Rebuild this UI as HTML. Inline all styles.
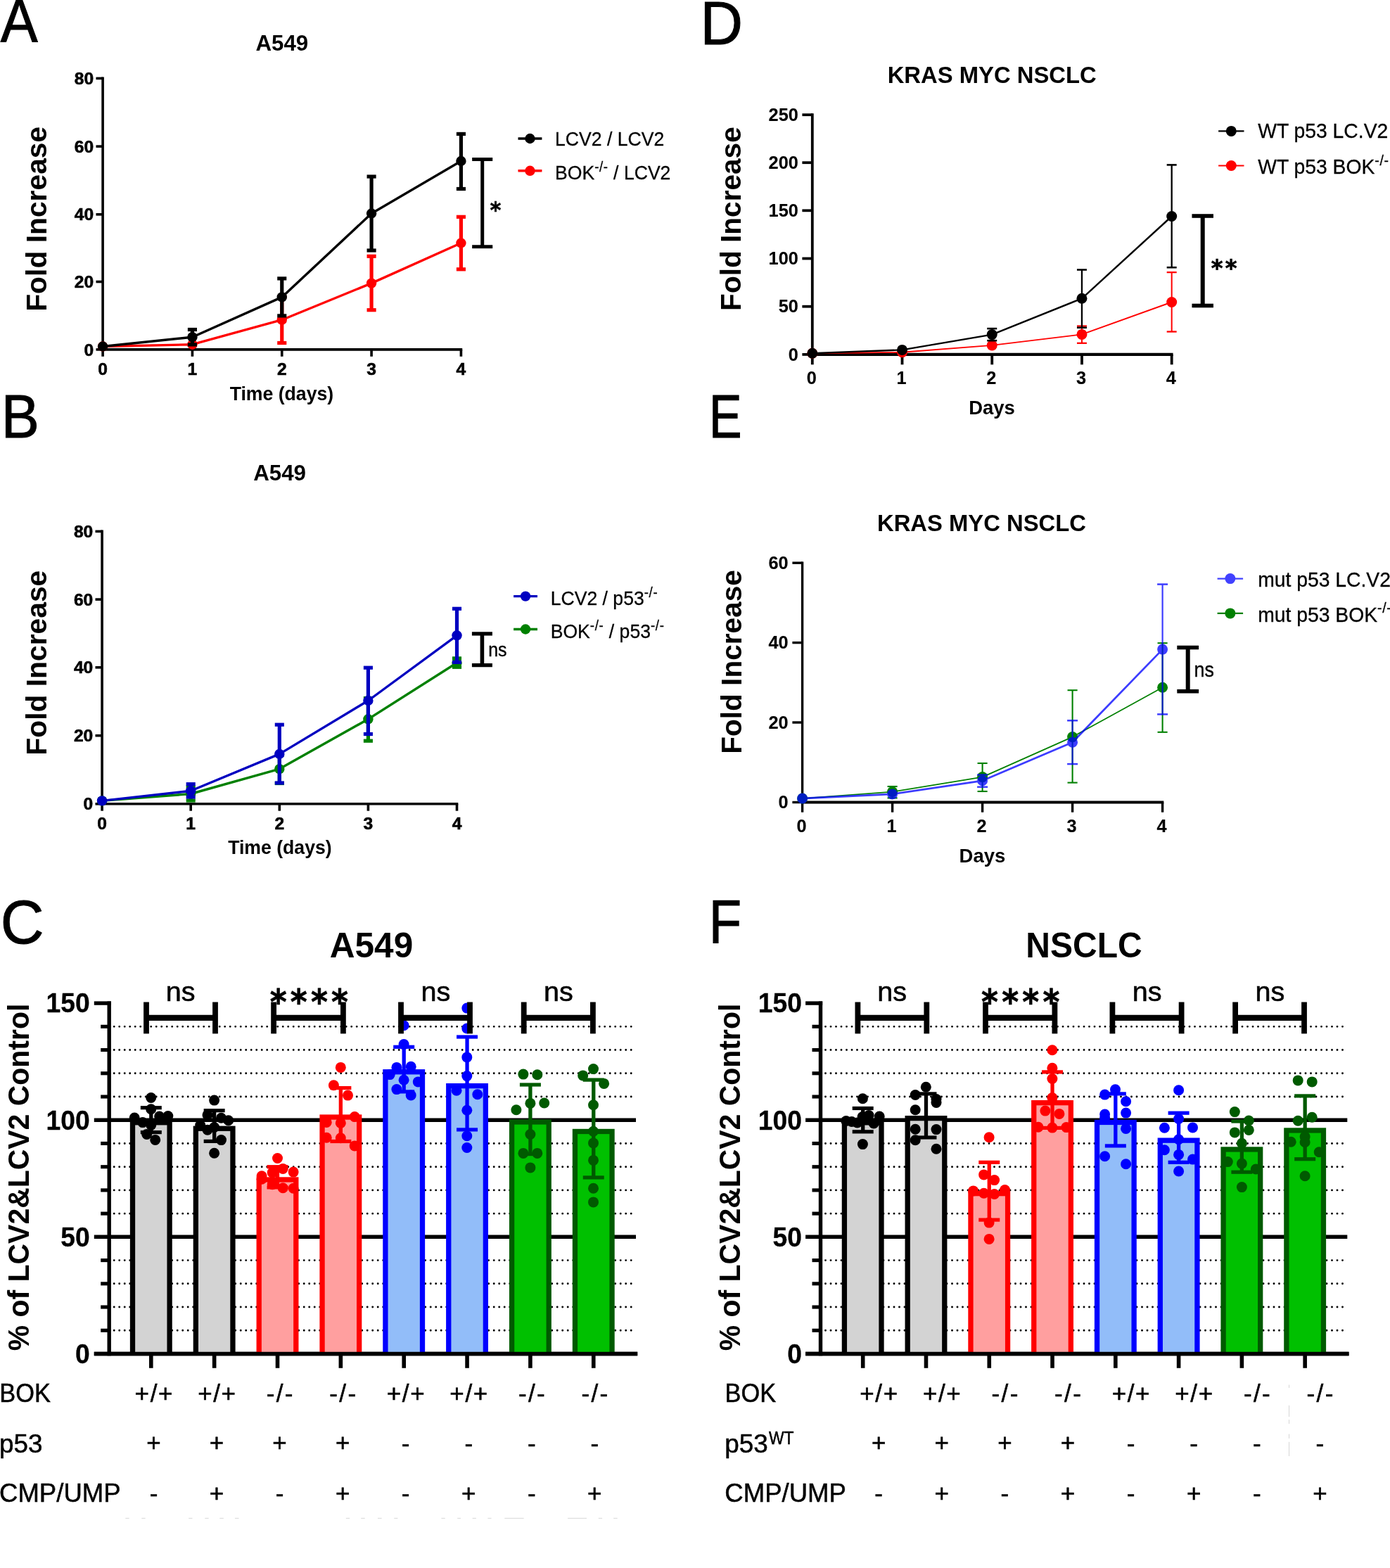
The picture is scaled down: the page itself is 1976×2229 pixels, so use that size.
<!DOCTYPE html>
<html lang="en"><head><meta charset="utf-8"><title>Figure</title>
<style>
html,body{margin:0;padding:0;background:#fff;}
body{width:1976px;height:2229px;overflow:hidden;}
svg{display:block;}
text{font-family:"Liberation Sans",sans-serif;}
</style></head><body>
<svg width="1976" height="2229" viewBox="0 0 1976 2229">
<rect width="1976" height="2229" fill="#fff"/>
<g id="panelA">
<line x1="146.1" y1="109.6" x2="146.1" y2="498.7" stroke="#000" stroke-width="3.6" stroke-linecap="butt" />
<line x1="144.3" y1="496.9" x2="657.22" y2="496.9" stroke="#000" stroke-width="3.6" stroke-linecap="butt" />
<line x1="136.5" y1="496.9" x2="146.1" y2="496.9" stroke="#000" stroke-width="3.6" stroke-linecap="butt" />
<text x="133.2" y="505.5" font-size="24.6" font-weight="bold" text-anchor="end" stroke="#000" stroke-width="0.6" >0</text>
<line x1="136.5" y1="400.5" x2="146.1" y2="400.5" stroke="#000" stroke-width="3.6" stroke-linecap="butt" />
<text x="133.2" y="409.1" font-size="24.6" font-weight="bold" text-anchor="end" stroke="#000" stroke-width="0.6" >20</text>
<line x1="136.5" y1="304.8" x2="146.1" y2="304.8" stroke="#000" stroke-width="3.6" stroke-linecap="butt" />
<text x="133.2" y="313.4" font-size="24.6" font-weight="bold" text-anchor="end" stroke="#000" stroke-width="0.6" >40</text>
<line x1="136.5" y1="208.1" x2="146.1" y2="208.1" stroke="#000" stroke-width="3.6" stroke-linecap="butt" />
<text x="133.2" y="216.7" font-size="24.6" font-weight="bold" text-anchor="end" stroke="#000" stroke-width="0.6" >60</text>
<line x1="136.5" y1="111.4" x2="146.1" y2="111.4" stroke="#000" stroke-width="3.6" stroke-linecap="butt" />
<text x="133.2" y="120" font-size="24.6" font-weight="bold" text-anchor="end" stroke="#000" stroke-width="0.6" >80</text>
<line x1="146.1" y1="496.9" x2="146.1" y2="506.8" stroke="#000" stroke-width="3.6" stroke-linecap="butt" />
<text x="146.1" y="533.4" font-size="24.6" font-weight="bold" text-anchor="middle" stroke="#000" stroke-width="0.6" >0</text>
<line x1="273.43" y1="496.9" x2="273.43" y2="506.8" stroke="#000" stroke-width="3.6" stroke-linecap="butt" />
<text x="273.43" y="533.4" font-size="24.6" font-weight="bold" text-anchor="middle" stroke="#000" stroke-width="0.6" >1</text>
<line x1="400.76" y1="496.9" x2="400.76" y2="506.8" stroke="#000" stroke-width="3.6" stroke-linecap="butt" />
<text x="400.76" y="533.4" font-size="24.6" font-weight="bold" text-anchor="middle" stroke="#000" stroke-width="0.6" >2</text>
<line x1="528.09" y1="496.9" x2="528.09" y2="506.8" stroke="#000" stroke-width="3.6" stroke-linecap="butt" />
<text x="528.09" y="533.4" font-size="24.6" font-weight="bold" text-anchor="middle" stroke="#000" stroke-width="0.6" >3</text>
<line x1="655.42" y1="496.9" x2="655.42" y2="506.8" stroke="#000" stroke-width="3.6" stroke-linecap="butt" />
<text x="655.42" y="533.4" font-size="24.6" font-weight="bold" text-anchor="middle" stroke="#000" stroke-width="0.6" >4</text>
<text x="400.8" y="72.3" font-size="31.3" font-weight="bold" text-anchor="middle" >A549</text>
<text transform="translate(400.4 569) scale(0.98 1)" font-size="27.2" font-weight="bold" text-anchor="middle" >Time (days)</text>
<text transform="translate(66.2 311.3) rotate(-90)" font-size="40.8" font-weight="bold" text-anchor="middle" >Fold Increase</text>
<line x1="400.76" y1="421.9" x2="400.76" y2="487.5" stroke="#ff0000" stroke-width="5.2" stroke-linecap="butt" />
<line x1="394.21" y1="421.9" x2="407.31" y2="421.9" stroke="#ff0000" stroke-width="5.2" stroke-linecap="butt" />
<line x1="394.21" y1="487.5" x2="407.31" y2="487.5" stroke="#ff0000" stroke-width="5.2" stroke-linecap="butt" />
<line x1="528.09" y1="364.3" x2="528.09" y2="440.7" stroke="#ff0000" stroke-width="5.2" stroke-linecap="butt" />
<line x1="521.54" y1="364.3" x2="534.64" y2="364.3" stroke="#ff0000" stroke-width="5.2" stroke-linecap="butt" />
<line x1="521.54" y1="440.7" x2="534.64" y2="440.7" stroke="#ff0000" stroke-width="5.2" stroke-linecap="butt" />
<line x1="655.42" y1="308.3" x2="655.42" y2="382.8" stroke="#ff0000" stroke-width="5.2" stroke-linecap="butt" />
<line x1="648.87" y1="308.3" x2="661.97" y2="308.3" stroke="#ff0000" stroke-width="5.2" stroke-linecap="butt" />
<line x1="648.87" y1="382.8" x2="661.97" y2="382.8" stroke="#ff0000" stroke-width="5.2" stroke-linecap="butt" />
<polyline fill="none" stroke="#ff0000" stroke-width="3.4" stroke-linejoin="round" points="146.1,492.5 273.43,489.7 400.76,454.7 528.09,402.6 655.42,345.5"/>
<circle cx="146.1" cy="492.5" r="7.2" fill="#ff0000" />
<circle cx="273.43" cy="489.7" r="7.2" fill="#ff0000" />
<circle cx="400.76" cy="454.7" r="7.2" fill="#ff0000" />
<circle cx="528.09" cy="402.6" r="7.2" fill="#ff0000" />
<circle cx="655.42" cy="345.5" r="7.2" fill="#ff0000" />
<line x1="273.43" y1="468.5" x2="273.43" y2="489.9" stroke="#000000" stroke-width="5.2" stroke-linecap="butt" />
<line x1="266.88" y1="468.5" x2="279.98" y2="468.5" stroke="#000000" stroke-width="5.2" stroke-linecap="butt" />
<line x1="266.88" y1="489.9" x2="279.98" y2="489.9" stroke="#000000" stroke-width="5.2" stroke-linecap="butt" />
<line x1="400.76" y1="395.9" x2="400.76" y2="448.9" stroke="#000000" stroke-width="5.2" stroke-linecap="butt" />
<line x1="394.21" y1="395.9" x2="407.31" y2="395.9" stroke="#000000" stroke-width="5.2" stroke-linecap="butt" />
<line x1="394.21" y1="448.9" x2="407.31" y2="448.9" stroke="#000000" stroke-width="5.2" stroke-linecap="butt" />
<line x1="528.09" y1="251" x2="528.09" y2="356" stroke="#000000" stroke-width="5.2" stroke-linecap="butt" />
<line x1="521.54" y1="251" x2="534.64" y2="251" stroke="#000000" stroke-width="5.2" stroke-linecap="butt" />
<line x1="521.54" y1="356" x2="534.64" y2="356" stroke="#000000" stroke-width="5.2" stroke-linecap="butt" />
<line x1="655.42" y1="190.4" x2="655.42" y2="268.5" stroke="#000000" stroke-width="5.2" stroke-linecap="butt" />
<line x1="648.87" y1="190.4" x2="661.97" y2="190.4" stroke="#000000" stroke-width="5.2" stroke-linecap="butt" />
<line x1="648.87" y1="268.5" x2="661.97" y2="268.5" stroke="#000000" stroke-width="5.2" stroke-linecap="butt" />
<polyline fill="none" stroke="#000000" stroke-width="3.4" stroke-linejoin="round" points="146.1,492.5 273.43,479.2 400.76,422.4 528.09,303.5 655.42,229"/>
<circle cx="146.1" cy="492.5" r="7.2" fill="#000000" />
<circle cx="273.43" cy="479.2" r="7.2" fill="#000000" />
<circle cx="400.76" cy="422.4" r="7.2" fill="#000000" />
<circle cx="528.09" cy="303.5" r="7.2" fill="#000000" />
<circle cx="655.42" cy="229" r="7.2" fill="#000000" />
<line x1="736.5" y1="197" x2="770.4" y2="197" stroke="#000000" stroke-width="3.4" stroke-linecap="butt" />
<circle cx="753.45" cy="197" r="7.2" fill="#000000" />
<text transform="translate(789 206.9) scale(0.95 1)" font-size="28" stroke="#000" stroke-width="0.3" >LCV2 / LCV2</text>
<line x1="736.5" y1="242.8" x2="770.4" y2="242.8" stroke="#ff0000" stroke-width="3.4" stroke-linecap="butt" />
<circle cx="753.45" cy="242.8" r="7.2" fill="#ff0000" />
<text transform="translate(789 254.7) scale(0.95 1)" font-size="28" stroke="#000" stroke-width="0.3" >BOK<tspan font-size="19.6" dy="-10.8" letter-spacing="0.7">-/-</tspan><tspan dy="10.8"> / LCV2</tspan></text>
<line x1="685.7" y1="226.5" x2="685.7" y2="350.7" stroke="#000" stroke-width="5" stroke-linecap="butt" />
<line x1="671.15" y1="226.5" x2="700.25" y2="226.5" stroke="#000" stroke-width="4.9" stroke-linecap="butt" />
<line x1="671.15" y1="350.7" x2="700.25" y2="350.7" stroke="#000" stroke-width="4.9" stroke-linecap="butt" />
<text transform="translate(696.86 309.48) scale(0.94 1)" font-size="31.52" font-weight="bold" letter-spacing="0.56" stroke="#000" stroke-width="0.7" vector-effect="non-scaling-stroke" style="font-family:'DejaVu Sans',sans-serif">*</text>
</g>
<g id="panelB">
<line x1="145.1" y1="753.6" x2="145.1" y2="1144.6" stroke="#000" stroke-width="3.6" stroke-linecap="butt" />
<line x1="143.3" y1="1142.8" x2="651.3" y2="1142.8" stroke="#000" stroke-width="3.6" stroke-linecap="butt" />
<line x1="135.5" y1="1142.8" x2="145.1" y2="1142.8" stroke="#000" stroke-width="3.6" stroke-linecap="butt" />
<text x="132.3" y="1151.4" font-size="24.6" font-weight="bold" text-anchor="end" stroke="#000" stroke-width="0.6" >0</text>
<line x1="135.5" y1="1045.7" x2="145.1" y2="1045.7" stroke="#000" stroke-width="3.6" stroke-linecap="butt" />
<text x="132.3" y="1054.3" font-size="24.6" font-weight="bold" text-anchor="end" stroke="#000" stroke-width="0.6" >20</text>
<line x1="135.5" y1="948.8" x2="145.1" y2="948.8" stroke="#000" stroke-width="3.6" stroke-linecap="butt" />
<text x="132.3" y="957.4" font-size="24.6" font-weight="bold" text-anchor="end" stroke="#000" stroke-width="0.6" >40</text>
<line x1="135.5" y1="852.1" x2="145.1" y2="852.1" stroke="#000" stroke-width="3.6" stroke-linecap="butt" />
<text x="132.3" y="860.7" font-size="24.6" font-weight="bold" text-anchor="end" stroke="#000" stroke-width="0.6" >60</text>
<line x1="135.5" y1="755.4" x2="145.1" y2="755.4" stroke="#000" stroke-width="3.6" stroke-linecap="butt" />
<text x="132.3" y="764" font-size="24.6" font-weight="bold" text-anchor="end" stroke="#000" stroke-width="0.6" >80</text>
<line x1="145.1" y1="1142.8" x2="145.1" y2="1152.7" stroke="#000" stroke-width="3.6" stroke-linecap="butt" />
<text x="145.1" y="1179.2" font-size="24.6" font-weight="bold" text-anchor="middle" stroke="#000" stroke-width="0.6" >0</text>
<line x1="271.2" y1="1142.8" x2="271.2" y2="1152.7" stroke="#000" stroke-width="3.6" stroke-linecap="butt" />
<text x="271.2" y="1179.2" font-size="24.6" font-weight="bold" text-anchor="middle" stroke="#000" stroke-width="0.6" >1</text>
<line x1="397.3" y1="1142.8" x2="397.3" y2="1152.7" stroke="#000" stroke-width="3.6" stroke-linecap="butt" />
<text x="397.3" y="1179.2" font-size="24.6" font-weight="bold" text-anchor="middle" stroke="#000" stroke-width="0.6" >2</text>
<line x1="523.4" y1="1142.8" x2="523.4" y2="1152.7" stroke="#000" stroke-width="3.6" stroke-linecap="butt" />
<text x="523.4" y="1179.2" font-size="24.6" font-weight="bold" text-anchor="middle" stroke="#000" stroke-width="0.6" >3</text>
<line x1="649.5" y1="1142.8" x2="649.5" y2="1152.7" stroke="#000" stroke-width="3.6" stroke-linecap="butt" />
<text x="649.5" y="1179.2" font-size="24.6" font-weight="bold" text-anchor="middle" stroke="#000" stroke-width="0.6" >4</text>
<text x="397.6" y="682.8" font-size="31.3" font-weight="bold" text-anchor="middle" >A549</text>
<text transform="translate(397.9 1214.3) scale(0.98 1)" font-size="27.2" font-weight="bold" text-anchor="middle" >Time (days)</text>
<text transform="translate(66.2 942.2) rotate(-90)" font-size="40.8" font-weight="bold" text-anchor="middle" >Fold Increase</text>
<line x1="271.2" y1="1119" x2="271.2" y2="1138" stroke="#008000" stroke-width="5.2" stroke-linecap="butt" />
<line x1="264.65" y1="1119" x2="277.75" y2="1119" stroke="#008000" stroke-width="5.2" stroke-linecap="butt" />
<line x1="264.65" y1="1138" x2="277.75" y2="1138" stroke="#008000" stroke-width="5.2" stroke-linecap="butt" />
<line x1="397.3" y1="1073" x2="397.3" y2="1113.5" stroke="#008000" stroke-width="5.2" stroke-linecap="butt" />
<line x1="390.75" y1="1073" x2="403.85" y2="1073" stroke="#008000" stroke-width="5.2" stroke-linecap="butt" />
<line x1="390.75" y1="1113.5" x2="403.85" y2="1113.5" stroke="#008000" stroke-width="5.2" stroke-linecap="butt" />
<line x1="523.4" y1="992.5" x2="523.4" y2="1053.2" stroke="#008000" stroke-width="5.2" stroke-linecap="butt" />
<line x1="516.85" y1="992.5" x2="529.95" y2="992.5" stroke="#008000" stroke-width="5.2" stroke-linecap="butt" />
<line x1="516.85" y1="1053.2" x2="529.95" y2="1053.2" stroke="#008000" stroke-width="5.2" stroke-linecap="butt" />
<line x1="649.5" y1="935.9" x2="649.5" y2="948.3" stroke="#008000" stroke-width="5.2" stroke-linecap="butt" />
<line x1="642.95" y1="935.9" x2="656.05" y2="935.9" stroke="#008000" stroke-width="5.2" stroke-linecap="butt" />
<line x1="642.95" y1="948.3" x2="656.05" y2="948.3" stroke="#008000" stroke-width="5.2" stroke-linecap="butt" />
<polyline fill="none" stroke="#008000" stroke-width="3.4" stroke-linejoin="round" points="145.1,1138.4 271.2,1128.5 397.3,1093.1 523.4,1022.3 649.5,942.2"/>
<circle cx="145.1" cy="1138.4" r="7.2" fill="#008000" />
<circle cx="271.2" cy="1128.5" r="7.2" fill="#008000" />
<circle cx="397.3" cy="1093.1" r="7.2" fill="#008000" />
<circle cx="523.4" cy="1022.3" r="7.2" fill="#008000" />
<circle cx="649.5" cy="942.2" r="7.2" fill="#008000" />
<line x1="271.2" y1="1114.7" x2="271.2" y2="1133" stroke="#0000c0" stroke-width="5.2" stroke-linecap="butt" />
<line x1="264.65" y1="1114.7" x2="277.75" y2="1114.7" stroke="#0000c0" stroke-width="5.2" stroke-linecap="butt" />
<line x1="264.65" y1="1133" x2="277.75" y2="1133" stroke="#0000c0" stroke-width="5.2" stroke-linecap="butt" />
<line x1="397.3" y1="1030.2" x2="397.3" y2="1113" stroke="#0000c0" stroke-width="5.2" stroke-linecap="butt" />
<line x1="390.75" y1="1030.2" x2="403.85" y2="1030.2" stroke="#0000c0" stroke-width="5.2" stroke-linecap="butt" />
<line x1="390.75" y1="1113" x2="403.85" y2="1113" stroke="#0000c0" stroke-width="5.2" stroke-linecap="butt" />
<line x1="523.4" y1="949.2" x2="523.4" y2="1043.5" stroke="#0000c0" stroke-width="5.2" stroke-linecap="butt" />
<line x1="516.85" y1="949.2" x2="529.95" y2="949.2" stroke="#0000c0" stroke-width="5.2" stroke-linecap="butt" />
<line x1="516.85" y1="1043.5" x2="529.95" y2="1043.5" stroke="#0000c0" stroke-width="5.2" stroke-linecap="butt" />
<line x1="649.5" y1="865.3" x2="649.5" y2="941.4" stroke="#0000c0" stroke-width="5.2" stroke-linecap="butt" />
<line x1="642.95" y1="865.3" x2="656.05" y2="865.3" stroke="#0000c0" stroke-width="5.2" stroke-linecap="butt" />
<line x1="642.95" y1="941.4" x2="656.05" y2="941.4" stroke="#0000c0" stroke-width="5.2" stroke-linecap="butt" />
<polyline fill="none" stroke="#0000c0" stroke-width="3.4" stroke-linejoin="round" points="145.1,1138.4 271.2,1124.3 397.3,1071.9 523.4,996 649.5,903.3"/>
<circle cx="145.1" cy="1138.4" r="7.2" fill="#0000c0" />
<circle cx="271.2" cy="1124.3" r="7.2" fill="#0000c0" />
<circle cx="397.3" cy="1071.9" r="7.2" fill="#0000c0" />
<circle cx="523.4" cy="996" r="7.2" fill="#0000c0" />
<circle cx="649.5" cy="903.3" r="7.2" fill="#0000c0" />
<line x1="730.1" y1="847.6" x2="764" y2="847.6" stroke="#0000c0" stroke-width="3.4" stroke-linecap="butt" />
<circle cx="747.05" cy="847.6" r="7.2" fill="#0000c0" />
<text transform="translate(782.7 859.5) scale(0.95 1)" font-size="28" stroke="#000" stroke-width="0.3" >LCV2 / p53<tspan font-size="19.6" dy="-10.8" letter-spacing="0.7">-/-</tspan></text>
<line x1="730.1" y1="894.5" x2="764" y2="894.5" stroke="#008000" stroke-width="3.4" stroke-linecap="butt" />
<circle cx="747.05" cy="894.5" r="7.2" fill="#008000" />
<text transform="translate(782.7 906.9) scale(0.95 1)" font-size="28" stroke="#000" stroke-width="0.3" >BOK<tspan font-size="19.6" dy="-10.8" letter-spacing="0.7">-/-</tspan><tspan dy="10.8"> / p53</tspan><tspan font-size="19.6" dy="-10.8" letter-spacing="0.7">-/-</tspan></text>
<line x1="685.4" y1="900.9" x2="685.4" y2="945.6" stroke="#000" stroke-width="5.6" stroke-linecap="butt" />
<line x1="670.9" y1="900.9" x2="699.9" y2="900.9" stroke="#000" stroke-width="5.3" stroke-linecap="butt" />
<line x1="670.9" y1="945.6" x2="699.9" y2="945.6" stroke="#000" stroke-width="5.3" stroke-linecap="butt" />
<text transform="translate(694.2 933.1) scale(0.94 1.05)" font-size="26.5" stroke="#000" stroke-width="0.4">ns</text>
</g>
<g id="panelD">
<line x1="1154.8" y1="161.3" x2="1154.8" y2="505.8" stroke="#000" stroke-width="3.8" stroke-linecap="butt" />
<line x1="1152.9" y1="503.9" x2="1667.58" y2="503.9" stroke="#000" stroke-width="4.4" stroke-linecap="butt" />
<line x1="1140.4" y1="503.9" x2="1154.8" y2="503.9" stroke="#000" stroke-width="3.8" stroke-linecap="butt" />
<text x="1134.8" y="512.5" font-size="25.3" font-weight="bold" text-anchor="end" stroke="#000" stroke-width="0.15" >0</text>
<line x1="1140.4" y1="435.7" x2="1154.8" y2="435.7" stroke="#000" stroke-width="3.8" stroke-linecap="butt" />
<text x="1134.8" y="444.3" font-size="25.3" font-weight="bold" text-anchor="end" stroke="#000" stroke-width="0.15" >50</text>
<line x1="1140.4" y1="367.5" x2="1154.8" y2="367.5" stroke="#000" stroke-width="3.8" stroke-linecap="butt" />
<text x="1134.8" y="376.1" font-size="25.3" font-weight="bold" text-anchor="end" stroke="#000" stroke-width="0.15" >100</text>
<line x1="1140.4" y1="299.3" x2="1154.8" y2="299.3" stroke="#000" stroke-width="3.8" stroke-linecap="butt" />
<text x="1134.8" y="307.9" font-size="25.3" font-weight="bold" text-anchor="end" stroke="#000" stroke-width="0.15" >150</text>
<line x1="1140.4" y1="231.2" x2="1154.8" y2="231.2" stroke="#000" stroke-width="3.8" stroke-linecap="butt" />
<text x="1134.8" y="239.8" font-size="25.3" font-weight="bold" text-anchor="end" stroke="#000" stroke-width="0.15" >200</text>
<line x1="1140.4" y1="163.2" x2="1154.8" y2="163.2" stroke="#000" stroke-width="3.8" stroke-linecap="butt" />
<text x="1134.8" y="171.8" font-size="25.3" font-weight="bold" text-anchor="end" stroke="#000" stroke-width="0.15" >250</text>
<line x1="1154.8" y1="503.9" x2="1154.8" y2="518.3" stroke="#000" stroke-width="3.8" stroke-linecap="butt" />
<text x="1153.8" y="546" font-size="25.3" font-weight="bold" text-anchor="middle" stroke="#000" stroke-width="0.15" >0</text>
<line x1="1282.52" y1="503.9" x2="1282.52" y2="518.3" stroke="#000" stroke-width="3.8" stroke-linecap="butt" />
<text x="1281.52" y="546" font-size="25.3" font-weight="bold" text-anchor="middle" stroke="#000" stroke-width="0.15" >1</text>
<line x1="1410.24" y1="503.9" x2="1410.24" y2="518.3" stroke="#000" stroke-width="3.8" stroke-linecap="butt" />
<text x="1409.24" y="546" font-size="25.3" font-weight="bold" text-anchor="middle" stroke="#000" stroke-width="0.15" >2</text>
<line x1="1537.96" y1="503.9" x2="1537.96" y2="518.3" stroke="#000" stroke-width="3.8" stroke-linecap="butt" />
<text x="1536.96" y="546" font-size="25.3" font-weight="bold" text-anchor="middle" stroke="#000" stroke-width="0.15" >3</text>
<line x1="1665.68" y1="503.9" x2="1665.68" y2="518.3" stroke="#000" stroke-width="3.8" stroke-linecap="butt" />
<text x="1664.68" y="546" font-size="25.3" font-weight="bold" text-anchor="middle" stroke="#000" stroke-width="0.15" >4</text>
<text x="1410.2" y="118.1" font-size="32.8" font-weight="bold" text-anchor="middle" >KRAS MYC NSCLC</text>
<text x="1410" y="589" font-size="27.5" font-weight="bold" text-anchor="middle" >Days</text>
<text transform="translate(1053.3 311.1) rotate(-90)" font-size="40.6" font-weight="bold" text-anchor="middle" >Fold Increase</text>
<line x1="1537.96" y1="463.5" x2="1537.96" y2="487.8" stroke="#ff0000" stroke-width="2" stroke-linecap="butt" />
<line x1="1530.96" y1="463.5" x2="1544.96" y2="463.5" stroke="#ff0000" stroke-width="2.3" stroke-linecap="butt" />
<line x1="1530.96" y1="487.8" x2="1544.96" y2="487.8" stroke="#ff0000" stroke-width="2.3" stroke-linecap="butt" />
<line x1="1665.68" y1="387.1" x2="1665.68" y2="471.5" stroke="#ff0000" stroke-width="2" stroke-linecap="butt" />
<line x1="1658.68" y1="387.1" x2="1672.68" y2="387.1" stroke="#ff0000" stroke-width="2.3" stroke-linecap="butt" />
<line x1="1658.68" y1="471.5" x2="1672.68" y2="471.5" stroke="#ff0000" stroke-width="2.3" stroke-linecap="butt" />
<polyline fill="none" stroke="#ff0000" stroke-width="1.9" stroke-linejoin="round" points="1154.8,502.2 1282.52,500.8 1410.24,490.9 1537.96,475.4 1665.68,429.5"/>
<circle cx="1154.8" cy="502.2" r="7.5" fill="#ff0000" />
<circle cx="1282.52" cy="500.8" r="7.5" fill="#ff0000" />
<circle cx="1410.24" cy="490.9" r="7.5" fill="#ff0000" />
<circle cx="1537.96" cy="475.4" r="7.5" fill="#ff0000" />
<circle cx="1665.68" cy="429.5" r="7.5" fill="#ff0000" />
<line x1="1410.24" y1="467.1" x2="1410.24" y2="484.2" stroke="#000000" stroke-width="2.3" stroke-linecap="butt" />
<line x1="1403.24" y1="467.1" x2="1417.24" y2="467.1" stroke="#000000" stroke-width="2.6" stroke-linecap="butt" />
<line x1="1403.24" y1="484.2" x2="1417.24" y2="484.2" stroke="#000000" stroke-width="2.6" stroke-linecap="butt" />
<line x1="1537.96" y1="383.5" x2="1537.96" y2="465.7" stroke="#000000" stroke-width="2.3" stroke-linecap="butt" />
<line x1="1530.96" y1="383.5" x2="1544.96" y2="383.5" stroke="#000000" stroke-width="2.6" stroke-linecap="butt" />
<line x1="1530.96" y1="465.7" x2="1544.96" y2="465.7" stroke="#000000" stroke-width="2.6" stroke-linecap="butt" />
<line x1="1665.68" y1="234.4" x2="1665.68" y2="380.2" stroke="#000000" stroke-width="2.3" stroke-linecap="butt" />
<line x1="1658.68" y1="234.4" x2="1672.68" y2="234.4" stroke="#000000" stroke-width="2.6" stroke-linecap="butt" />
<line x1="1658.68" y1="380.2" x2="1672.68" y2="380.2" stroke="#000000" stroke-width="2.6" stroke-linecap="butt" />
<polyline fill="none" stroke="#000000" stroke-width="2.4" stroke-linejoin="round" points="1154.8,502.2 1282.52,497.4 1410.24,475.6 1537.96,424.3 1665.68,307.5"/>
<circle cx="1154.8" cy="502.2" r="7.5" fill="#000000" />
<circle cx="1282.52" cy="497.4" r="7.5" fill="#000000" />
<circle cx="1410.24" cy="475.6" r="7.5" fill="#000000" />
<circle cx="1537.96" cy="424.3" r="7.5" fill="#000000" />
<circle cx="1665.68" cy="307.5" r="7.5" fill="#000000" />
<line x1="1732.1" y1="186.4" x2="1768.5" y2="186.4" stroke="#000000" stroke-width="2.1" stroke-linecap="butt" />
<circle cx="1750.3" cy="186.4" r="7.5" fill="#000000" />
<text transform="translate(1788.2 195.9) scale(0.95 1)" font-size="29.8" stroke="#000" stroke-width="0.3" >WT p53 LC.V2</text>
<line x1="1732.1" y1="235.5" x2="1768.5" y2="235.5" stroke="#ff0000" stroke-width="2.1" stroke-linecap="butt" />
<circle cx="1750.3" cy="235.5" r="7.5" fill="#ff0000" />
<text transform="translate(1788.2 247.1) scale(0.95 1)" font-size="29.8" stroke="#000" stroke-width="0.3" >WT p53 BOK<tspan font-size="20.5" dy="-12.6" letter-spacing="0.7">-/-</tspan></text>
<line x1="1709.7" y1="307" x2="1709.7" y2="434.5" stroke="#000" stroke-width="6" stroke-linecap="butt" />
<line x1="1694.45" y1="307" x2="1724.95" y2="307" stroke="#000" stroke-width="5.6" stroke-linecap="butt" />
<line x1="1694.45" y1="434.5" x2="1724.95" y2="434.5" stroke="#000" stroke-width="5.6" stroke-linecap="butt" />
<text transform="translate(1721.76 393.08) scale(0.95 1)" font-size="33.7" font-weight="bold" letter-spacing="3.38" stroke="#000" stroke-width="0.7" vector-effect="non-scaling-stroke" style="font-family:'DejaVu Sans',sans-serif">**</text>
</g>
<g id="panelE">
<line x1="1140.6" y1="798.5" x2="1140.6" y2="1142.2" stroke="#000" stroke-width="3.4" stroke-linecap="butt" />
<line x1="1138.9" y1="1140.5" x2="1654.3" y2="1140.5" stroke="#000" stroke-width="4" stroke-linecap="butt" />
<line x1="1126.4" y1="1140.5" x2="1140.6" y2="1140.5" stroke="#000" stroke-width="3.4" stroke-linecap="butt" />
<text x="1120.7" y="1149.1" font-size="25.3" font-weight="bold" text-anchor="end" stroke="#000" stroke-width="0.15" >0</text>
<line x1="1126.4" y1="1027" x2="1140.6" y2="1027" stroke="#000" stroke-width="3.4" stroke-linecap="butt" />
<text x="1120.7" y="1035.6" font-size="25.3" font-weight="bold" text-anchor="end" stroke="#000" stroke-width="0.15" >20</text>
<line x1="1126.4" y1="913.6" x2="1140.6" y2="913.6" stroke="#000" stroke-width="3.4" stroke-linecap="butt" />
<text x="1120.7" y="922.2" font-size="25.3" font-weight="bold" text-anchor="end" stroke="#000" stroke-width="0.15" >40</text>
<line x1="1126.4" y1="800.2" x2="1140.6" y2="800.2" stroke="#000" stroke-width="3.4" stroke-linecap="butt" />
<text x="1120.7" y="808.8" font-size="25.3" font-weight="bold" text-anchor="end" stroke="#000" stroke-width="0.15" >60</text>
<line x1="1140.6" y1="1140.5" x2="1140.6" y2="1154.7" stroke="#000" stroke-width="3.4" stroke-linecap="butt" />
<text x="1139.6" y="1183" font-size="25.3" font-weight="bold" text-anchor="middle" stroke="#000" stroke-width="0.15" >0</text>
<line x1="1268.6" y1="1140.5" x2="1268.6" y2="1154.7" stroke="#000" stroke-width="3.4" stroke-linecap="butt" />
<text x="1267.6" y="1183" font-size="25.3" font-weight="bold" text-anchor="middle" stroke="#000" stroke-width="0.15" >1</text>
<line x1="1396.6" y1="1140.5" x2="1396.6" y2="1154.7" stroke="#000" stroke-width="3.4" stroke-linecap="butt" />
<text x="1395.6" y="1183" font-size="25.3" font-weight="bold" text-anchor="middle" stroke="#000" stroke-width="0.15" >2</text>
<line x1="1524.6" y1="1140.5" x2="1524.6" y2="1154.7" stroke="#000" stroke-width="3.4" stroke-linecap="butt" />
<text x="1523.6" y="1183" font-size="25.3" font-weight="bold" text-anchor="middle" stroke="#000" stroke-width="0.15" >3</text>
<line x1="1652.6" y1="1140.5" x2="1652.6" y2="1154.7" stroke="#000" stroke-width="3.4" stroke-linecap="butt" />
<text x="1651.6" y="1183" font-size="25.3" font-weight="bold" text-anchor="middle" stroke="#000" stroke-width="0.15" >4</text>
<text x="1395.5" y="754.5" font-size="32.8" font-weight="bold" text-anchor="middle" >KRAS MYC NSCLC</text>
<text x="1396.4" y="1226.3" font-size="27.5" font-weight="bold" text-anchor="middle" >Days</text>
<text transform="translate(1053.5 941) rotate(-90)" font-size="40.6" font-weight="bold" text-anchor="middle" >Fold Increase</text>
<line x1="1268.6" y1="1118" x2="1268.6" y2="1134.4" stroke="#008000" stroke-width="2.1" stroke-linecap="butt" />
<line x1="1261.55" y1="1118" x2="1275.65" y2="1118" stroke="#008000" stroke-width="2.1" stroke-linecap="butt" />
<line x1="1261.55" y1="1134.4" x2="1275.65" y2="1134.4" stroke="#008000" stroke-width="2.1" stroke-linecap="butt" />
<line x1="1396.6" y1="1085" x2="1396.6" y2="1125" stroke="#008000" stroke-width="2.1" stroke-linecap="butt" />
<line x1="1389.55" y1="1085" x2="1403.65" y2="1085" stroke="#008000" stroke-width="2.1" stroke-linecap="butt" />
<line x1="1389.55" y1="1125" x2="1403.65" y2="1125" stroke="#008000" stroke-width="2.1" stroke-linecap="butt" />
<line x1="1524.6" y1="981.2" x2="1524.6" y2="1112.6" stroke="#008000" stroke-width="2.1" stroke-linecap="butt" />
<line x1="1517.55" y1="981.2" x2="1531.65" y2="981.2" stroke="#008000" stroke-width="2.1" stroke-linecap="butt" />
<line x1="1517.55" y1="1112.6" x2="1531.65" y2="1112.6" stroke="#008000" stroke-width="2.1" stroke-linecap="butt" />
<line x1="1652.6" y1="914.2" x2="1652.6" y2="1040.8" stroke="#008000" stroke-width="2.1" stroke-linecap="butt" />
<line x1="1645.55" y1="914.2" x2="1659.65" y2="914.2" stroke="#008000" stroke-width="2.1" stroke-linecap="butt" />
<line x1="1645.55" y1="1040.8" x2="1659.65" y2="1040.8" stroke="#008000" stroke-width="2.1" stroke-linecap="butt" />
<polyline fill="none" stroke="#008000" stroke-width="1.7" stroke-linejoin="round" points="1140.6,1135 1268.6,1125.6 1396.6,1104.6 1524.6,1047.6 1652.6,977.3"/>
<circle cx="1140.6" cy="1135" r="7.5" fill="#008000" />
<circle cx="1268.6" cy="1125.6" r="7.5" fill="#008000" />
<circle cx="1396.6" cy="1104.6" r="7.5" fill="#008000" />
<circle cx="1524.6" cy="1047.6" r="7.5" fill="#008000" />
<circle cx="1652.6" cy="977.3" r="7.5" fill="#008000" />
<g opacity="0.76">
<line x1="1396.6" y1="1101.5" x2="1396.6" y2="1118.7" stroke="#0000ff" stroke-width="2.2" stroke-linecap="butt" />
<line x1="1389.1" y1="1101.5" x2="1404.1" y2="1101.5" stroke="#0000ff" stroke-width="2.5" stroke-linecap="butt" />
<line x1="1389.1" y1="1118.7" x2="1404.1" y2="1118.7" stroke="#0000ff" stroke-width="2.5" stroke-linecap="butt" />
<line x1="1524.6" y1="1024.3" x2="1524.6" y2="1086.1" stroke="#0000ff" stroke-width="2.2" stroke-linecap="butt" />
<line x1="1517.1" y1="1024.3" x2="1532.1" y2="1024.3" stroke="#0000ff" stroke-width="2.5" stroke-linecap="butt" />
<line x1="1517.1" y1="1086.1" x2="1532.1" y2="1086.1" stroke="#0000ff" stroke-width="2.5" stroke-linecap="butt" />
<line x1="1652.6" y1="830.6" x2="1652.6" y2="1015.4" stroke="#0000ff" stroke-width="2.2" stroke-linecap="butt" />
<line x1="1645.1" y1="830.6" x2="1660.1" y2="830.6" stroke="#0000ff" stroke-width="2.5" stroke-linecap="butt" />
<line x1="1645.1" y1="1015.4" x2="1660.1" y2="1015.4" stroke="#0000ff" stroke-width="2.5" stroke-linecap="butt" />
<polyline fill="none" stroke="#0000ff" stroke-width="2.8" stroke-linejoin="round" points="1140.6,1135 1268.6,1128.9 1396.6,1109.8 1524.6,1055.2 1652.6,923.1"/>
<circle cx="1140.6" cy="1135" r="7.5" fill="#0000ff" />
<circle cx="1268.6" cy="1128.9" r="7.5" fill="#0000ff" />
<circle cx="1396.6" cy="1109.8" r="7.5" fill="#0000ff" />
<circle cx="1524.6" cy="1055.2" r="7.5" fill="#0000ff" />
<circle cx="1652.6" cy="923.1" r="7.5" fill="#0000ff" />
</g>
<g opacity="0.74">
<line x1="1730.6" y1="822.6" x2="1767.1" y2="822.6" stroke="#0000ff" stroke-width="2.4" stroke-linecap="butt" />
<circle cx="1748.85" cy="822.6" r="7.5" fill="#0000ff" />
</g>
<text transform="translate(1788.2 833.7) scale(0.95 1)" font-size="29.8" stroke="#000" stroke-width="0.3" >mut p53 LC.V2</text>
<line x1="1730.6" y1="871.9" x2="1767.1" y2="871.9" stroke="#008000" stroke-width="2.1" stroke-linecap="butt" />
<circle cx="1748.85" cy="871.9" r="7.5" fill="#008000" />
<text transform="translate(1788.2 884) scale(0.95 1)" font-size="29.8" stroke="#000" stroke-width="0.3" >mut p53 BOK<tspan font-size="20.5" dy="-12.6" letter-spacing="0.7">-/-</tspan></text>
<line x1="1688.7" y1="920.5" x2="1688.7" y2="982.7" stroke="#000" stroke-width="6" stroke-linecap="butt" />
<line x1="1673.3" y1="920.5" x2="1704.1" y2="920.5" stroke="#000" stroke-width="5.6" stroke-linecap="butt" />
<line x1="1673.3" y1="982.7" x2="1704.1" y2="982.7" stroke="#000" stroke-width="5.6" stroke-linecap="butt" />
<text transform="translate(1697.5 961.8) scale(0.94 1.05)" font-size="28.5" stroke="#000" stroke-width="0.4">ns</text>
</g>
<g id="panelC">
<line x1="162.2" y1="1891.27" x2="898" y2="1891.27" stroke="#000" stroke-width="2.9" stroke-dasharray="0.01 7.49" stroke-linecap="round"/>
<line x1="162.2" y1="1858.05" x2="898" y2="1858.05" stroke="#000" stroke-width="2.9" stroke-dasharray="0.01 7.49" stroke-linecap="round"/>
<line x1="162.2" y1="1824.82" x2="898" y2="1824.82" stroke="#000" stroke-width="2.9" stroke-dasharray="0.01 7.49" stroke-linecap="round"/>
<line x1="162.2" y1="1791.59" x2="898" y2="1791.59" stroke="#000" stroke-width="2.9" stroke-dasharray="0.01 7.49" stroke-linecap="round"/>
<line x1="162.2" y1="1725.14" x2="898" y2="1725.14" stroke="#000" stroke-width="2.9" stroke-dasharray="0.01 7.49" stroke-linecap="round"/>
<line x1="162.2" y1="1691.91" x2="898" y2="1691.91" stroke="#000" stroke-width="2.9" stroke-dasharray="0.01 7.49" stroke-linecap="round"/>
<line x1="162.2" y1="1658.69" x2="898" y2="1658.69" stroke="#000" stroke-width="2.9" stroke-dasharray="0.01 7.49" stroke-linecap="round"/>
<line x1="162.2" y1="1625.46" x2="898" y2="1625.46" stroke="#000" stroke-width="2.9" stroke-dasharray="0.01 7.49" stroke-linecap="round"/>
<line x1="162.2" y1="1559.01" x2="898" y2="1559.01" stroke="#000" stroke-width="2.9" stroke-dasharray="0.01 7.49" stroke-linecap="round"/>
<line x1="162.2" y1="1525.78" x2="898" y2="1525.78" stroke="#000" stroke-width="2.9" stroke-dasharray="0.01 7.49" stroke-linecap="round"/>
<line x1="162.2" y1="1492.55" x2="898" y2="1492.55" stroke="#000" stroke-width="2.9" stroke-dasharray="0.01 7.49" stroke-linecap="round"/>
<line x1="162.2" y1="1459.33" x2="898" y2="1459.33" stroke="#000" stroke-width="2.9" stroke-dasharray="0.01 7.49" stroke-linecap="round"/>
<line x1="133.8" y1="1758.37" x2="904" y2="1758.37" stroke="#000" stroke-width="5.5" stroke-linecap="butt" />
<line x1="133.8" y1="1592.23" x2="904" y2="1592.23" stroke="#000" stroke-width="5.5" stroke-linecap="butt" />
<line x1="133.8" y1="1924.5" x2="906.2" y2="1924.5" stroke="#000" stroke-width="5.4" stroke-linecap="butt" />
<line x1="133.8" y1="1426.1" x2="157.9" y2="1426.1" stroke="#000" stroke-width="5.4" stroke-linecap="butt" />
<line x1="155.2" y1="1423.4" x2="155.2" y2="1927.2" stroke="#000" stroke-width="5.4" stroke-linecap="butt" />
<line x1="143.2" y1="1891.27" x2="155.2" y2="1891.27" stroke="#000" stroke-width="5.1" stroke-linecap="butt" />
<line x1="143.2" y1="1858.05" x2="155.2" y2="1858.05" stroke="#000" stroke-width="5.1" stroke-linecap="butt" />
<line x1="143.2" y1="1824.82" x2="155.2" y2="1824.82" stroke="#000" stroke-width="5.1" stroke-linecap="butt" />
<line x1="143.2" y1="1791.59" x2="155.2" y2="1791.59" stroke="#000" stroke-width="5.1" stroke-linecap="butt" />
<line x1="143.2" y1="1725.14" x2="155.2" y2="1725.14" stroke="#000" stroke-width="5.1" stroke-linecap="butt" />
<line x1="143.2" y1="1691.91" x2="155.2" y2="1691.91" stroke="#000" stroke-width="5.1" stroke-linecap="butt" />
<line x1="143.2" y1="1658.69" x2="155.2" y2="1658.69" stroke="#000" stroke-width="5.1" stroke-linecap="butt" />
<line x1="143.2" y1="1625.46" x2="155.2" y2="1625.46" stroke="#000" stroke-width="5.1" stroke-linecap="butt" />
<line x1="143.2" y1="1559.01" x2="155.2" y2="1559.01" stroke="#000" stroke-width="5.1" stroke-linecap="butt" />
<line x1="143.2" y1="1525.78" x2="155.2" y2="1525.78" stroke="#000" stroke-width="5.1" stroke-linecap="butt" />
<line x1="143.2" y1="1492.55" x2="155.2" y2="1492.55" stroke="#000" stroke-width="5.1" stroke-linecap="butt" />
<line x1="143.2" y1="1459.33" x2="155.2" y2="1459.33" stroke="#000" stroke-width="5.1" stroke-linecap="butt" />
<text transform="translate(127.6 1937.8) scale(0.97 1)" font-size="38.4" font-weight="bold" text-anchor="end" stroke="#000" stroke-width="0.3" >0</text>
<text transform="translate(127.6 1771.67) scale(0.97 1)" font-size="38.4" font-weight="bold" text-anchor="end" stroke="#000" stroke-width="0.3" >50</text>
<text transform="translate(127.6 1605.53) scale(0.97 1)" font-size="38.4" font-weight="bold" text-anchor="end" stroke="#000" stroke-width="0.3" >100</text>
<text transform="translate(127.6 1439.4) scale(0.97 1)" font-size="38.4" font-weight="bold" text-anchor="end" stroke="#000" stroke-width="0.3" >150</text>
<rect x="184.85" y="1592.1" width="59.9" height="332.4" fill="#000000" />
<rect x="192.15" y="1599.4" width="45.3" height="325.1" fill="#d3d3d3" />
<rect x="274.7" y="1600.6" width="59.9" height="323.9" fill="#000000" />
<rect x="282" y="1607.9" width="45.3" height="316.6" fill="#d3d3d3" />
<rect x="364.55" y="1673.3" width="59.9" height="251.2" fill="#ff0000" />
<rect x="371.85" y="1680.6" width="45.3" height="243.9" fill="#ff9f9f" />
<rect x="454.4" y="1584.4" width="59.9" height="340.1" fill="#ff0000" />
<rect x="461.7" y="1591.7" width="45.3" height="332.8" fill="#ff9f9f" />
<rect x="544.25" y="1520.1" width="59.9" height="404.4" fill="#0000ff" />
<rect x="551.55" y="1527.4" width="45.3" height="397.1" fill="#92bdf9" />
<rect x="634.1" y="1540" width="59.9" height="384.5" fill="#0000ff" />
<rect x="641.4" y="1547.3" width="45.3" height="377.2" fill="#92bdf9" />
<rect x="723.95" y="1591.3" width="59.9" height="333.2" fill="#005a00" />
<rect x="731.25" y="1598.6" width="45.3" height="325.9" fill="#00c000" />
<rect x="813.8" y="1604.8" width="59.9" height="319.7" fill="#005a00" />
<rect x="821.1" y="1612.1" width="45.3" height="312.4" fill="#00c000" />
<line x1="133.8" y1="1924.5" x2="906.2" y2="1924.5" stroke="#000" stroke-width="5.4" stroke-linecap="butt" />
<line x1="214.8" y1="1924.5" x2="214.8" y2="1944.8" stroke="#000" stroke-width="5.6" stroke-linecap="butt" />
<line x1="304.65" y1="1924.5" x2="304.65" y2="1944.8" stroke="#000" stroke-width="5.6" stroke-linecap="butt" />
<line x1="394.5" y1="1924.5" x2="394.5" y2="1944.8" stroke="#000" stroke-width="5.6" stroke-linecap="butt" />
<line x1="484.35" y1="1924.5" x2="484.35" y2="1944.8" stroke="#000" stroke-width="5.6" stroke-linecap="butt" />
<line x1="574.2" y1="1924.5" x2="574.2" y2="1944.8" stroke="#000" stroke-width="5.6" stroke-linecap="butt" />
<line x1="664.05" y1="1924.5" x2="664.05" y2="1944.8" stroke="#000" stroke-width="5.6" stroke-linecap="butt" />
<line x1="753.9" y1="1924.5" x2="753.9" y2="1944.8" stroke="#000" stroke-width="5.6" stroke-linecap="butt" />
<line x1="843.75" y1="1924.5" x2="843.75" y2="1944.8" stroke="#000" stroke-width="5.6" stroke-linecap="butt" />
<line x1="214.8" y1="1574.7" x2="214.8" y2="1609.6" stroke="#000000" stroke-width="5.3" stroke-linecap="butt" />
<line x1="199.8" y1="1574.7" x2="229.8" y2="1574.7" stroke="#000000" stroke-width="5.2" stroke-linecap="butt" />
<line x1="199.8" y1="1609.6" x2="229.8" y2="1609.6" stroke="#000000" stroke-width="5.2" stroke-linecap="butt" />
<circle cx="214.7" cy="1560.5" r="7.5" fill="#000000" />
<circle cx="214.7" cy="1576.7" r="7.5" fill="#000000" />
<circle cx="191.2" cy="1589.1" r="7.5" fill="#000000" />
<circle cx="226.6" cy="1587.1" r="7.5" fill="#000000" />
<circle cx="238.8" cy="1586.6" r="7.5" fill="#000000" />
<circle cx="202.8" cy="1595.6" r="7.5" fill="#000000" />
<circle cx="214.7" cy="1599.5" r="7.5" fill="#000000" />
<circle cx="208.7" cy="1612.4" r="7.5" fill="#000000" />
<circle cx="220.7" cy="1620.4" r="7.5" fill="#000000" />
<line x1="304.65" y1="1578.7" x2="304.65" y2="1622.4" stroke="#000000" stroke-width="5.3" stroke-linecap="butt" />
<line x1="289.65" y1="1578.7" x2="319.65" y2="1578.7" stroke="#000000" stroke-width="5.2" stroke-linecap="butt" />
<line x1="289.65" y1="1622.4" x2="319.65" y2="1622.4" stroke="#000000" stroke-width="5.2" stroke-linecap="butt" />
<circle cx="304.6" cy="1564.1" r="7.5" fill="#000000" />
<circle cx="295" cy="1585.1" r="7.5" fill="#000000" />
<circle cx="314.5" cy="1589.3" r="7.5" fill="#000000" />
<circle cx="324.7" cy="1592.8" r="7.5" fill="#000000" />
<circle cx="284.7" cy="1599.5" r="7.5" fill="#000000" />
<circle cx="304.6" cy="1602.5" r="7.5" fill="#000000" />
<circle cx="295" cy="1606.3" r="7.5" fill="#000000" />
<circle cx="314.5" cy="1620.6" r="7.5" fill="#000000" />
<circle cx="304.6" cy="1639.3" r="7.5" fill="#000000" />
<line x1="394.5" y1="1658.7" x2="394.5" y2="1687.9" stroke="#ff0000" stroke-width="5.3" stroke-linecap="butt" />
<line x1="379.5" y1="1658.7" x2="409.5" y2="1658.7" stroke="#ff0000" stroke-width="5.2" stroke-linecap="butt" />
<line x1="379.5" y1="1687.9" x2="409.5" y2="1687.9" stroke="#ff0000" stroke-width="5.2" stroke-linecap="butt" />
<circle cx="394.5" cy="1646.5" r="7.5" fill="#ff0000" />
<circle cx="402.2" cy="1661.4" r="7.5" fill="#ff0000" />
<circle cx="417.1" cy="1666.1" r="7.5" fill="#ff0000" />
<circle cx="387.2" cy="1666.9" r="7.5" fill="#ff0000" />
<circle cx="372.1" cy="1671.8" r="7.5" fill="#ff0000" />
<circle cx="372.1" cy="1676.3" r="7.5" fill="#ff0000" />
<circle cx="387.2" cy="1683.8" r="7.5" fill="#ff0000" />
<circle cx="402.2" cy="1688.7" r="7.5" fill="#ff0000" />
<circle cx="417.1" cy="1689.2" r="7.5" fill="#ff0000" />
<line x1="484.35" y1="1546.6" x2="484.35" y2="1622.5" stroke="#ff0000" stroke-width="5.3" stroke-linecap="butt" />
<line x1="469.35" y1="1546.6" x2="499.35" y2="1546.6" stroke="#ff0000" stroke-width="5.2" stroke-linecap="butt" />
<line x1="469.35" y1="1622.5" x2="499.35" y2="1622.5" stroke="#ff0000" stroke-width="5.2" stroke-linecap="butt" />
<circle cx="484.3" cy="1517.4" r="7.5" fill="#ff0000" />
<circle cx="474.4" cy="1542.7" r="7.5" fill="#ff0000" />
<circle cx="494.5" cy="1557.1" r="7.5" fill="#ff0000" />
<circle cx="504.2" cy="1587.6" r="7.5" fill="#ff0000" />
<circle cx="464.2" cy="1595.4" r="7.5" fill="#ff0000" />
<circle cx="484.3" cy="1596.4" r="7.5" fill="#ff0000" />
<circle cx="464.2" cy="1617.2" r="7.5" fill="#ff0000" />
<circle cx="484.3" cy="1617.7" r="7.5" fill="#ff0000" />
<circle cx="504.2" cy="1628.9" r="7.5" fill="#ff0000" />
<line x1="574.2" y1="1488.3" x2="574.2" y2="1551.9" stroke="#0000ff" stroke-width="5.3" stroke-linecap="butt" />
<line x1="559.2" y1="1488.3" x2="589.2" y2="1488.3" stroke="#0000ff" stroke-width="5.2" stroke-linecap="butt" />
<line x1="559.2" y1="1551.9" x2="589.2" y2="1551.9" stroke="#0000ff" stroke-width="5.2" stroke-linecap="butt" />
<circle cx="574.1" cy="1457.7" r="7.5" fill="#0000ff" />
<circle cx="574.1" cy="1484.6" r="7.5" fill="#0000ff" />
<circle cx="563.9" cy="1517.4" r="7.5" fill="#0000ff" />
<circle cx="584.2" cy="1516.3" r="7.5" fill="#0000ff" />
<circle cx="554.2" cy="1527.6" r="7.5" fill="#0000ff" />
<circle cx="574.1" cy="1535.2" r="7.5" fill="#0000ff" />
<circle cx="594.3" cy="1537.9" r="7.5" fill="#0000ff" />
<circle cx="563.9" cy="1548.6" r="7.5" fill="#0000ff" />
<circle cx="584.2" cy="1556.9" r="7.5" fill="#0000ff" />
<line x1="664.05" y1="1474" x2="664.05" y2="1605.9" stroke="#0000ff" stroke-width="5.3" stroke-linecap="butt" />
<line x1="649.05" y1="1474" x2="679.05" y2="1474" stroke="#0000ff" stroke-width="5.2" stroke-linecap="butt" />
<line x1="649.05" y1="1605.9" x2="679.05" y2="1605.9" stroke="#0000ff" stroke-width="5.2" stroke-linecap="butt" />
<circle cx="663.8" cy="1433.1" r="7.5" fill="#0000ff" />
<circle cx="663.8" cy="1462" r="7.5" fill="#0000ff" />
<circle cx="663.8" cy="1502.9" r="7.5" fill="#0000ff" />
<circle cx="663.8" cy="1529.6" r="7.5" fill="#0000ff" />
<circle cx="649" cy="1550.2" r="7.5" fill="#0000ff" />
<circle cx="678.8" cy="1555.8" r="7.5" fill="#0000ff" />
<circle cx="663.8" cy="1578.2" r="7.5" fill="#0000ff" />
<circle cx="663.8" cy="1614.8" r="7.5" fill="#0000ff" />
<circle cx="663.8" cy="1631.5" r="7.5" fill="#0000ff" />
<line x1="753.9" y1="1542" x2="753.9" y2="1640.6" stroke="#005a00" stroke-width="5.3" stroke-linecap="butt" />
<line x1="738.9" y1="1542" x2="768.9" y2="1542" stroke="#005a00" stroke-width="5.2" stroke-linecap="butt" />
<line x1="738.9" y1="1640.6" x2="768.9" y2="1640.6" stroke="#005a00" stroke-width="5.2" stroke-linecap="butt" />
<circle cx="743.9" cy="1527.1" r="7.5" fill="#005a00" />
<circle cx="763.8" cy="1527.7" r="7.5" fill="#005a00" />
<circle cx="753.9" cy="1568.4" r="7.5" fill="#005a00" />
<circle cx="773.7" cy="1568" r="7.5" fill="#005a00" />
<circle cx="733.9" cy="1577.8" r="7.5" fill="#005a00" />
<circle cx="753.9" cy="1612.5" r="7.5" fill="#005a00" />
<circle cx="743.9" cy="1639.4" r="7.5" fill="#005a00" />
<circle cx="763.8" cy="1639.4" r="7.5" fill="#005a00" />
<circle cx="753.9" cy="1659.9" r="7.5" fill="#005a00" />
<line x1="843.75" y1="1535.1" x2="843.75" y2="1673.9" stroke="#005a00" stroke-width="5.3" stroke-linecap="butt" />
<line x1="828.75" y1="1535.1" x2="858.75" y2="1535.1" stroke="#005a00" stroke-width="5.2" stroke-linecap="butt" />
<line x1="828.75" y1="1673.9" x2="858.75" y2="1673.9" stroke="#005a00" stroke-width="5.2" stroke-linecap="butt" />
<circle cx="843.5" cy="1519.6" r="7.5" fill="#005a00" />
<circle cx="828.7" cy="1528.9" r="7.5" fill="#005a00" />
<circle cx="858.6" cy="1540.4" r="7.5" fill="#005a00" />
<circle cx="843.5" cy="1570.7" r="7.5" fill="#005a00" />
<circle cx="843.5" cy="1608.2" r="7.5" fill="#005a00" />
<circle cx="843.5" cy="1624.9" r="7.5" fill="#005a00" />
<circle cx="843.5" cy="1649.4" r="7.5" fill="#005a00" />
<circle cx="843.5" cy="1689.3" r="7.5" fill="#005a00" />
<circle cx="843.5" cy="1708.9" r="7.5" fill="#005a00" />
<line x1="208" y1="1446.9" x2="306" y2="1446.9" stroke="#000" stroke-width="8.1" stroke-linecap="butt" />
<line x1="208" y1="1424.5" x2="208" y2="1469.4" stroke="#000" stroke-width="7.8" stroke-linecap="butt" />
<line x1="306" y1="1424.5" x2="306" y2="1469.4" stroke="#000" stroke-width="7.8" stroke-linecap="butt" />
<line x1="389.1" y1="1446.9" x2="487.9" y2="1446.9" stroke="#000" stroke-width="8.1" stroke-linecap="butt" />
<line x1="389.1" y1="1424.5" x2="389.1" y2="1469.4" stroke="#000" stroke-width="7.8" stroke-linecap="butt" />
<line x1="487.9" y1="1424.5" x2="487.9" y2="1469.4" stroke="#000" stroke-width="7.8" stroke-linecap="butt" />
<line x1="570" y1="1446.9" x2="668" y2="1446.9" stroke="#000" stroke-width="8.1" stroke-linecap="butt" />
<line x1="570" y1="1424.5" x2="570" y2="1469.4" stroke="#000" stroke-width="7.8" stroke-linecap="butt" />
<line x1="668" y1="1424.5" x2="668" y2="1469.4" stroke="#000" stroke-width="7.8" stroke-linecap="butt" />
<line x1="744.7" y1="1446.9" x2="842.9" y2="1446.9" stroke="#000" stroke-width="8.1" stroke-linecap="butt" />
<line x1="744.7" y1="1424.5" x2="744.7" y2="1469.4" stroke="#000" stroke-width="7.8" stroke-linecap="butt" />
<line x1="842.9" y1="1424.5" x2="842.9" y2="1469.4" stroke="#000" stroke-width="7.8" stroke-linecap="butt" />
<text x="256.7" y="1423.4" font-size="39.6" text-anchor="middle" stroke="#000" stroke-width="0.6" >ns</text>
<text transform="translate(383.69 1441.61) scale(0.91 1)" font-size="50.22" font-weight="bold" letter-spacing="5.77" stroke="#000" stroke-width="0.7" vector-effect="non-scaling-stroke" style="font-family:'DejaVu Sans',sans-serif">****</text>
<text x="619.4" y="1423.4" font-size="39.6" text-anchor="middle" stroke="#000" stroke-width="0.6" >ns</text>
<text x="793.8" y="1423.4" font-size="39.6" text-anchor="middle" stroke="#000" stroke-width="0.6" >ns</text>
<text x="528" y="1360.7" font-size="49.5" font-weight="bold" text-anchor="middle" >A549</text>
<text transform="translate(40.8 1673.5) rotate(-90)" font-size="42.4" font-weight="bold" text-anchor="middle" textLength="493.6" lengthAdjust="spacingAndGlyphs" >% of LCV2&amp;LCV2 Control</text>
<text transform="translate(-0.7 1993.3) scale(0.95 1)" font-size="36.2" stroke="#000" stroke-width="0.5" vector-effect="non-scaling-stroke">BOK</text>
<text transform="translate(-1 2064.5) scale(1.02 1)" font-size="36.2" stroke="#000" stroke-width="0.5" vector-effect="non-scaling-stroke">p53</text>
<text transform="translate(-1 2134.6) scale(1.01 1)" font-size="36.2" stroke="#000" stroke-width="0.5" vector-effect="non-scaling-stroke">CMP/UMP</text>
<text x="219.3" y="1992.8" font-size="35" text-anchor="middle" stroke="#000" stroke-width="0.55" letter-spacing="1.6">+/+</text>
<text x="218.5" y="2062.7" font-size="35" text-anchor="middle" stroke="#000" stroke-width="0.55" >+</text>
<text x="218.5" y="2134.6" font-size="35" text-anchor="middle" stroke="#000" stroke-width="0.55" >-</text>
<text x="308.85" y="1992.8" font-size="35" text-anchor="middle" stroke="#000" stroke-width="0.55" letter-spacing="1.6">+/+</text>
<text x="308.05" y="2062.7" font-size="35" text-anchor="middle" stroke="#000" stroke-width="0.55" >+</text>
<text x="308.05" y="2134.6" font-size="35" text-anchor="middle" stroke="#000" stroke-width="0.55" >+</text>
<text x="398.8" y="1992.8" font-size="35" text-anchor="middle" stroke="#000" stroke-width="0.55" letter-spacing="2.4">-/-</text>
<text x="397.6" y="2062.7" font-size="35" text-anchor="middle" stroke="#000" stroke-width="0.55" >+</text>
<text x="397.6" y="2134.6" font-size="35" text-anchor="middle" stroke="#000" stroke-width="0.55" >-</text>
<text x="488.35" y="1992.8" font-size="35" text-anchor="middle" stroke="#000" stroke-width="0.55" letter-spacing="2.4">-/-</text>
<text x="487.15" y="2062.7" font-size="35" text-anchor="middle" stroke="#000" stroke-width="0.55" >+</text>
<text x="487.15" y="2134.6" font-size="35" text-anchor="middle" stroke="#000" stroke-width="0.55" >+</text>
<text x="577.5" y="1992.8" font-size="35" text-anchor="middle" stroke="#000" stroke-width="0.55" letter-spacing="1.6">+/+</text>
<text x="576.7" y="2063.5" font-size="35" text-anchor="middle" stroke="#000" stroke-width="0.55" >-</text>
<text x="576.7" y="2134.6" font-size="35" text-anchor="middle" stroke="#000" stroke-width="0.55" >-</text>
<text x="667.05" y="1992.8" font-size="35" text-anchor="middle" stroke="#000" stroke-width="0.55" letter-spacing="1.6">+/+</text>
<text x="666.25" y="2063.5" font-size="35" text-anchor="middle" stroke="#000" stroke-width="0.55" >-</text>
<text x="666.25" y="2134.6" font-size="35" text-anchor="middle" stroke="#000" stroke-width="0.55" >+</text>
<text x="757" y="1992.8" font-size="35" text-anchor="middle" stroke="#000" stroke-width="0.55" letter-spacing="2.4">-/-</text>
<text x="755.8" y="2063.5" font-size="35" text-anchor="middle" stroke="#000" stroke-width="0.55" >-</text>
<text x="755.8" y="2134.6" font-size="35" text-anchor="middle" stroke="#000" stroke-width="0.55" >-</text>
<text x="846.55" y="1992.8" font-size="35" text-anchor="middle" stroke="#000" stroke-width="0.55" letter-spacing="2.4">-/-</text>
<text x="845.35" y="2063.5" font-size="35" text-anchor="middle" stroke="#000" stroke-width="0.55" >-</text>
<text x="845.35" y="2134.6" font-size="35" text-anchor="middle" stroke="#000" stroke-width="0.55" >+</text>
</g>
<g id="panelF">
<line x1="1173.5" y1="1891.27" x2="1909.3" y2="1891.27" stroke="#000" stroke-width="2.9" stroke-dasharray="0.01 7.49" stroke-linecap="round"/>
<line x1="1173.5" y1="1858.05" x2="1909.3" y2="1858.05" stroke="#000" stroke-width="2.9" stroke-dasharray="0.01 7.49" stroke-linecap="round"/>
<line x1="1173.5" y1="1824.82" x2="1909.3" y2="1824.82" stroke="#000" stroke-width="2.9" stroke-dasharray="0.01 7.49" stroke-linecap="round"/>
<line x1="1173.5" y1="1791.59" x2="1909.3" y2="1791.59" stroke="#000" stroke-width="2.9" stroke-dasharray="0.01 7.49" stroke-linecap="round"/>
<line x1="1173.5" y1="1725.14" x2="1909.3" y2="1725.14" stroke="#000" stroke-width="2.9" stroke-dasharray="0.01 7.49" stroke-linecap="round"/>
<line x1="1173.5" y1="1691.91" x2="1909.3" y2="1691.91" stroke="#000" stroke-width="2.9" stroke-dasharray="0.01 7.49" stroke-linecap="round"/>
<line x1="1173.5" y1="1658.69" x2="1909.3" y2="1658.69" stroke="#000" stroke-width="2.9" stroke-dasharray="0.01 7.49" stroke-linecap="round"/>
<line x1="1173.5" y1="1625.46" x2="1909.3" y2="1625.46" stroke="#000" stroke-width="2.9" stroke-dasharray="0.01 7.49" stroke-linecap="round"/>
<line x1="1173.5" y1="1559.01" x2="1909.3" y2="1559.01" stroke="#000" stroke-width="2.9" stroke-dasharray="0.01 7.49" stroke-linecap="round"/>
<line x1="1173.5" y1="1525.78" x2="1909.3" y2="1525.78" stroke="#000" stroke-width="2.9" stroke-dasharray="0.01 7.49" stroke-linecap="round"/>
<line x1="1173.5" y1="1492.55" x2="1909.3" y2="1492.55" stroke="#000" stroke-width="2.9" stroke-dasharray="0.01 7.49" stroke-linecap="round"/>
<line x1="1173.5" y1="1459.33" x2="1909.3" y2="1459.33" stroke="#000" stroke-width="2.9" stroke-dasharray="0.01 7.49" stroke-linecap="round"/>
<line x1="1145.1" y1="1758.37" x2="1915.3" y2="1758.37" stroke="#000" stroke-width="5.5" stroke-linecap="butt" />
<line x1="1145.1" y1="1592.23" x2="1915.3" y2="1592.23" stroke="#000" stroke-width="5.5" stroke-linecap="butt" />
<line x1="1145.1" y1="1924.5" x2="1917.5" y2="1924.5" stroke="#000" stroke-width="5.4" stroke-linecap="butt" />
<line x1="1145.1" y1="1426.1" x2="1169.2" y2="1426.1" stroke="#000" stroke-width="5.4" stroke-linecap="butt" />
<line x1="1166.5" y1="1423.4" x2="1166.5" y2="1927.2" stroke="#000" stroke-width="5.4" stroke-linecap="butt" />
<line x1="1154.5" y1="1891.27" x2="1166.5" y2="1891.27" stroke="#000" stroke-width="5.1" stroke-linecap="butt" />
<line x1="1154.5" y1="1858.05" x2="1166.5" y2="1858.05" stroke="#000" stroke-width="5.1" stroke-linecap="butt" />
<line x1="1154.5" y1="1824.82" x2="1166.5" y2="1824.82" stroke="#000" stroke-width="5.1" stroke-linecap="butt" />
<line x1="1154.5" y1="1791.59" x2="1166.5" y2="1791.59" stroke="#000" stroke-width="5.1" stroke-linecap="butt" />
<line x1="1154.5" y1="1725.14" x2="1166.5" y2="1725.14" stroke="#000" stroke-width="5.1" stroke-linecap="butt" />
<line x1="1154.5" y1="1691.91" x2="1166.5" y2="1691.91" stroke="#000" stroke-width="5.1" stroke-linecap="butt" />
<line x1="1154.5" y1="1658.69" x2="1166.5" y2="1658.69" stroke="#000" stroke-width="5.1" stroke-linecap="butt" />
<line x1="1154.5" y1="1625.46" x2="1166.5" y2="1625.46" stroke="#000" stroke-width="5.1" stroke-linecap="butt" />
<line x1="1154.5" y1="1559.01" x2="1166.5" y2="1559.01" stroke="#000" stroke-width="5.1" stroke-linecap="butt" />
<line x1="1154.5" y1="1525.78" x2="1166.5" y2="1525.78" stroke="#000" stroke-width="5.1" stroke-linecap="butt" />
<line x1="1154.5" y1="1492.55" x2="1166.5" y2="1492.55" stroke="#000" stroke-width="5.1" stroke-linecap="butt" />
<line x1="1154.5" y1="1459.33" x2="1166.5" y2="1459.33" stroke="#000" stroke-width="5.1" stroke-linecap="butt" />
<text transform="translate(1139.9 1937.8) scale(0.97 1)" font-size="38.4" font-weight="bold" text-anchor="end" stroke="#000" stroke-width="0.3" >0</text>
<text transform="translate(1139.9 1771.67) scale(0.97 1)" font-size="38.4" font-weight="bold" text-anchor="end" stroke="#000" stroke-width="0.3" >50</text>
<text transform="translate(1139.9 1605.53) scale(0.97 1)" font-size="38.4" font-weight="bold" text-anchor="end" stroke="#000" stroke-width="0.3" >100</text>
<text transform="translate(1139.9 1439.4) scale(0.97 1)" font-size="38.4" font-weight="bold" text-anchor="end" stroke="#000" stroke-width="0.3" >150</text>
<rect x="1196.75" y="1592.2" width="59.9" height="332.3" fill="#000000" />
<rect x="1204.05" y="1599.5" width="45.3" height="325" fill="#d3d3d3" />
<rect x="1286.53" y="1586" width="59.9" height="338.5" fill="#000000" />
<rect x="1293.83" y="1593.3" width="45.3" height="331.2" fill="#d3d3d3" />
<rect x="1376.31" y="1693" width="59.9" height="231.5" fill="#ff0000" />
<rect x="1383.61" y="1700.3" width="45.3" height="224.2" fill="#ff9f9f" />
<rect x="1466.09" y="1564" width="59.9" height="360.5" fill="#ff0000" />
<rect x="1473.39" y="1571.3" width="45.3" height="353.2" fill="#ff9f9f" />
<rect x="1555.87" y="1591.8" width="59.9" height="332.7" fill="#0000ff" />
<rect x="1563.17" y="1599.1" width="45.3" height="325.4" fill="#92bdf9" />
<rect x="1645.65" y="1617.5" width="59.9" height="307" fill="#0000ff" />
<rect x="1652.95" y="1624.8" width="45.3" height="299.7" fill="#92bdf9" />
<rect x="1735.43" y="1630.3" width="59.9" height="294.2" fill="#005a00" />
<rect x="1742.73" y="1637.6" width="45.3" height="286.9" fill="#00c000" />
<rect x="1825.21" y="1603.3" width="59.9" height="321.2" fill="#005a00" />
<rect x="1832.51" y="1610.6" width="45.3" height="313.9" fill="#00c000" />
<line x1="1145.1" y1="1924.5" x2="1917.5" y2="1924.5" stroke="#000" stroke-width="5.4" stroke-linecap="butt" />
<line x1="1226.7" y1="1924.5" x2="1226.7" y2="1944.8" stroke="#000" stroke-width="5.6" stroke-linecap="butt" />
<line x1="1316.48" y1="1924.5" x2="1316.48" y2="1944.8" stroke="#000" stroke-width="5.6" stroke-linecap="butt" />
<line x1="1406.26" y1="1924.5" x2="1406.26" y2="1944.8" stroke="#000" stroke-width="5.6" stroke-linecap="butt" />
<line x1="1496.04" y1="1924.5" x2="1496.04" y2="1944.8" stroke="#000" stroke-width="5.6" stroke-linecap="butt" />
<line x1="1585.82" y1="1924.5" x2="1585.82" y2="1944.8" stroke="#000" stroke-width="5.6" stroke-linecap="butt" />
<line x1="1675.6" y1="1924.5" x2="1675.6" y2="1944.8" stroke="#000" stroke-width="5.6" stroke-linecap="butt" />
<line x1="1765.38" y1="1924.5" x2="1765.38" y2="1944.8" stroke="#000" stroke-width="5.6" stroke-linecap="butt" />
<line x1="1855.16" y1="1924.5" x2="1855.16" y2="1944.8" stroke="#000" stroke-width="5.6" stroke-linecap="butt" />
<line x1="1226.7" y1="1575.5" x2="1226.7" y2="1608.8" stroke="#000000" stroke-width="5.3" stroke-linecap="butt" />
<line x1="1211.7" y1="1575.5" x2="1241.7" y2="1575.5" stroke="#000000" stroke-width="5.2" stroke-linecap="butt" />
<line x1="1211.7" y1="1608.8" x2="1241.7" y2="1608.8" stroke="#000000" stroke-width="5.2" stroke-linecap="butt" />
<circle cx="1226.4" cy="1561.7" r="7.5" fill="#000000" />
<circle cx="1235.1" cy="1585.6" r="7.5" fill="#000000" />
<circle cx="1226.2" cy="1587.5" r="7.5" fill="#000000" />
<circle cx="1250.2" cy="1587.1" r="7.5" fill="#000000" />
<circle cx="1202.8" cy="1593.5" r="7.5" fill="#000000" />
<circle cx="1210.8" cy="1594.5" r="7.5" fill="#000000" />
<circle cx="1218.7" cy="1596" r="7.5" fill="#000000" />
<circle cx="1242.1" cy="1597" r="7.5" fill="#000000" />
<circle cx="1226.4" cy="1626.6" r="7.5" fill="#000000" />
<line x1="1316.48" y1="1554.9" x2="1316.48" y2="1617" stroke="#000000" stroke-width="5.3" stroke-linecap="butt" />
<line x1="1301.48" y1="1554.9" x2="1331.48" y2="1554.9" stroke="#000000" stroke-width="5.2" stroke-linecap="butt" />
<line x1="1301.48" y1="1617" x2="1331.48" y2="1617" stroke="#000000" stroke-width="5.2" stroke-linecap="butt" />
<circle cx="1316.3" cy="1545.3" r="7.5" fill="#000000" />
<circle cx="1301.2" cy="1556.5" r="7.5" fill="#000000" />
<circle cx="1331" cy="1562.5" r="7.5" fill="#000000" />
<circle cx="1331" cy="1567.5" r="7.5" fill="#000000" />
<circle cx="1301.2" cy="1577.8" r="7.5" fill="#000000" />
<circle cx="1301.2" cy="1605.2" r="7.5" fill="#000000" />
<circle cx="1331" cy="1605.6" r="7.5" fill="#000000" />
<circle cx="1301.2" cy="1620.8" r="7.5" fill="#000000" />
<circle cx="1331" cy="1633.2" r="7.5" fill="#000000" />
<line x1="1406.26" y1="1652.3" x2="1406.26" y2="1734.1" stroke="#ff0000" stroke-width="5.3" stroke-linecap="butt" />
<line x1="1391.26" y1="1652.3" x2="1421.26" y2="1652.3" stroke="#ff0000" stroke-width="5.2" stroke-linecap="butt" />
<line x1="1391.26" y1="1734.1" x2="1421.26" y2="1734.1" stroke="#ff0000" stroke-width="5.2" stroke-linecap="butt" />
<circle cx="1406.1" cy="1616.7" r="7.5" fill="#ff0000" />
<circle cx="1398.6" cy="1669.9" r="7.5" fill="#ff0000" />
<circle cx="1413.6" cy="1677.6" r="7.5" fill="#ff0000" />
<circle cx="1383.6" cy="1692.9" r="7.5" fill="#ff0000" />
<circle cx="1398.6" cy="1696.2" r="7.5" fill="#ff0000" />
<circle cx="1413.6" cy="1697.5" r="7.5" fill="#ff0000" />
<circle cx="1428.5" cy="1691.5" r="7.5" fill="#ff0000" />
<circle cx="1406.1" cy="1738.1" r="7.5" fill="#ff0000" />
<circle cx="1406.1" cy="1761.4" r="7.5" fill="#ff0000" />
<line x1="1496.04" y1="1523.9" x2="1496.04" y2="1603.4" stroke="#ff0000" stroke-width="5.3" stroke-linecap="butt" />
<line x1="1481.04" y1="1523.9" x2="1511.04" y2="1523.9" stroke="#ff0000" stroke-width="5.2" stroke-linecap="butt" />
<line x1="1481.04" y1="1603.4" x2="1511.04" y2="1603.4" stroke="#ff0000" stroke-width="5.2" stroke-linecap="butt" />
<circle cx="1495.9" cy="1492.8" r="7.5" fill="#ff0000" />
<circle cx="1495.9" cy="1518.2" r="7.5" fill="#ff0000" />
<circle cx="1495.9" cy="1533.5" r="7.5" fill="#ff0000" />
<circle cx="1495.9" cy="1560.6" r="7.5" fill="#ff0000" />
<circle cx="1485.9" cy="1579.1" r="7.5" fill="#ff0000" />
<circle cx="1505.9" cy="1583.4" r="7.5" fill="#ff0000" />
<circle cx="1476" cy="1602.2" r="7.5" fill="#ff0000" />
<circle cx="1495.9" cy="1603.1" r="7.5" fill="#ff0000" />
<circle cx="1515.9" cy="1602.6" r="7.5" fill="#ff0000" />
<line x1="1585.82" y1="1554.9" x2="1585.82" y2="1628.9" stroke="#0000ff" stroke-width="5.3" stroke-linecap="butt" />
<line x1="1570.82" y1="1554.9" x2="1600.82" y2="1554.9" stroke="#0000ff" stroke-width="5.2" stroke-linecap="butt" />
<line x1="1570.82" y1="1628.9" x2="1600.82" y2="1628.9" stroke="#0000ff" stroke-width="5.2" stroke-linecap="butt" />
<circle cx="1585.5" cy="1548.8" r="7.5" fill="#0000ff" />
<circle cx="1570.6" cy="1556.1" r="7.5" fill="#0000ff" />
<circle cx="1600.6" cy="1565.7" r="7.5" fill="#0000ff" />
<circle cx="1600.6" cy="1582.1" r="7.5" fill="#0000ff" />
<circle cx="1570.6" cy="1584.1" r="7.5" fill="#0000ff" />
<circle cx="1570.6" cy="1589.5" r="7.5" fill="#0000ff" />
<circle cx="1600.6" cy="1604.4" r="7.5" fill="#0000ff" />
<circle cx="1570.6" cy="1643.7" r="7.5" fill="#0000ff" />
<circle cx="1600.6" cy="1654.8" r="7.5" fill="#0000ff" />
<line x1="1675.6" y1="1582.2" x2="1675.6" y2="1652.3" stroke="#0000ff" stroke-width="5.3" stroke-linecap="butt" />
<line x1="1660.6" y1="1582.2" x2="1690.6" y2="1582.2" stroke="#0000ff" stroke-width="5.2" stroke-linecap="butt" />
<line x1="1660.6" y1="1652.3" x2="1690.6" y2="1652.3" stroke="#0000ff" stroke-width="5.2" stroke-linecap="butt" />
<circle cx="1675.6" cy="1549.8" r="7.5" fill="#0000ff" />
<circle cx="1675.6" cy="1590.5" r="7.5" fill="#0000ff" />
<circle cx="1655.4" cy="1603.2" r="7.5" fill="#0000ff" />
<circle cx="1695.5" cy="1602.9" r="7.5" fill="#0000ff" />
<circle cx="1675.6" cy="1619.8" r="7.5" fill="#0000ff" />
<circle cx="1655.4" cy="1634.7" r="7.5" fill="#0000ff" />
<circle cx="1675.6" cy="1641.4" r="7.5" fill="#0000ff" />
<circle cx="1695.5" cy="1648.1" r="7.5" fill="#0000ff" />
<circle cx="1675.6" cy="1665" r="7.5" fill="#0000ff" />
<line x1="1765.38" y1="1594" x2="1765.38" y2="1666.2" stroke="#005a00" stroke-width="5.3" stroke-linecap="butt" />
<line x1="1750.38" y1="1594" x2="1780.38" y2="1594" stroke="#005a00" stroke-width="5.2" stroke-linecap="butt" />
<line x1="1750.38" y1="1666.2" x2="1780.38" y2="1666.2" stroke="#005a00" stroke-width="5.2" stroke-linecap="butt" />
<circle cx="1755.3" cy="1580.6" r="7.5" fill="#005a00" />
<circle cx="1775.3" cy="1593" r="7.5" fill="#005a00" />
<circle cx="1755.3" cy="1609.9" r="7.5" fill="#005a00" />
<circle cx="1775.3" cy="1606.4" r="7.5" fill="#005a00" />
<circle cx="1765.4" cy="1625.3" r="7.5" fill="#005a00" />
<circle cx="1745.3" cy="1651.6" r="7.5" fill="#005a00" />
<circle cx="1765.4" cy="1654.1" r="7.5" fill="#005a00" />
<circle cx="1785.3" cy="1662" r="7.5" fill="#005a00" />
<circle cx="1765.4" cy="1687.6" r="7.5" fill="#005a00" />
<line x1="1855.16" y1="1557.9" x2="1855.16" y2="1647.7" stroke="#005a00" stroke-width="5.3" stroke-linecap="butt" />
<line x1="1840.16" y1="1557.9" x2="1870.16" y2="1557.9" stroke="#005a00" stroke-width="5.2" stroke-linecap="butt" />
<line x1="1840.16" y1="1647.7" x2="1870.16" y2="1647.7" stroke="#005a00" stroke-width="5.2" stroke-linecap="butt" />
<circle cx="1845.2" cy="1535.9" r="7.5" fill="#005a00" />
<circle cx="1865.2" cy="1537.9" r="7.5" fill="#005a00" />
<circle cx="1865.2" cy="1588.3" r="7.5" fill="#005a00" />
<circle cx="1845.2" cy="1593.2" r="7.5" fill="#005a00" />
<circle cx="1855.1" cy="1615.9" r="7.5" fill="#005a00" />
<circle cx="1835.2" cy="1623.3" r="7.5" fill="#005a00" />
<circle cx="1855.1" cy="1623.8" r="7.5" fill="#005a00" />
<circle cx="1875.2" cy="1637.7" r="7.5" fill="#005a00" />
<circle cx="1855.1" cy="1671.7" r="7.5" fill="#005a00" />
<line x1="1219.4" y1="1446.9" x2="1317.3" y2="1446.9" stroke="#000" stroke-width="8.1" stroke-linecap="butt" />
<line x1="1219.4" y1="1424.5" x2="1219.4" y2="1469.4" stroke="#000" stroke-width="7.8" stroke-linecap="butt" />
<line x1="1317.3" y1="1424.5" x2="1317.3" y2="1469.4" stroke="#000" stroke-width="7.8" stroke-linecap="butt" />
<line x1="1401" y1="1446.9" x2="1499.4" y2="1446.9" stroke="#000" stroke-width="8.1" stroke-linecap="butt" />
<line x1="1401" y1="1424.5" x2="1401" y2="1469.4" stroke="#000" stroke-width="7.8" stroke-linecap="butt" />
<line x1="1499.4" y1="1424.5" x2="1499.4" y2="1469.4" stroke="#000" stroke-width="7.8" stroke-linecap="butt" />
<line x1="1581.4" y1="1446.9" x2="1679.6" y2="1446.9" stroke="#000" stroke-width="8.1" stroke-linecap="butt" />
<line x1="1581.4" y1="1424.5" x2="1581.4" y2="1469.4" stroke="#000" stroke-width="7.8" stroke-linecap="butt" />
<line x1="1679.6" y1="1424.5" x2="1679.6" y2="1469.4" stroke="#000" stroke-width="7.8" stroke-linecap="butt" />
<line x1="1756.1" y1="1446.9" x2="1854" y2="1446.9" stroke="#000" stroke-width="8.1" stroke-linecap="butt" />
<line x1="1756.1" y1="1424.5" x2="1756.1" y2="1469.4" stroke="#000" stroke-width="7.8" stroke-linecap="butt" />
<line x1="1854" y1="1424.5" x2="1854" y2="1469.4" stroke="#000" stroke-width="7.8" stroke-linecap="butt" />
<text x="1268.2" y="1423.4" font-size="39.6" text-anchor="middle" stroke="#000" stroke-width="0.6" >ns</text>
<text transform="translate(1394.99 1441.61) scale(0.91 1)" font-size="50.22" font-weight="bold" letter-spacing="5.77" stroke="#000" stroke-width="0.7" vector-effect="non-scaling-stroke" style="font-family:'DejaVu Sans',sans-serif">****</text>
<text x="1630.6" y="1423.4" font-size="39.6" text-anchor="middle" stroke="#000" stroke-width="0.6" >ns</text>
<text x="1805.3" y="1423.4" font-size="39.6" text-anchor="middle" stroke="#000" stroke-width="0.6" >ns</text>
<text transform="translate(1541 1360.7) scale(0.97 1)" font-size="49.5" font-weight="bold" text-anchor="middle" >NSCLC</text>
<text transform="translate(1051.8 1673.5) rotate(-90)" font-size="42.4" font-weight="bold" text-anchor="middle" textLength="493.6" lengthAdjust="spacingAndGlyphs" >% of LCV2&amp;LCV2 Control</text>
<text transform="translate(1030.6 1993.3) scale(0.95 1)" font-size="36.2" stroke="#000" stroke-width="0.5" vector-effect="non-scaling-stroke">BOK</text>
<text transform="translate(1030.3 2064.5) scale(1.02 1)" font-size="36.2" stroke="#000" stroke-width="0.5" vector-effect="non-scaling-stroke">p53</text>
<text transform="translate(1092.9 2052.6) scale(0.92 1)" font-size="24.9" stroke="#000" stroke-width="0.5" vector-effect="non-scaling-stroke">WT</text>
<text transform="translate(1030.3 2134.6) scale(1.01 1)" font-size="36.2" stroke="#000" stroke-width="0.5" vector-effect="non-scaling-stroke">CMP/UMP</text>
<text x="1250" y="1992.8" font-size="35" text-anchor="middle" stroke="#000" stroke-width="0.55" letter-spacing="1.6">+/+</text>
<text x="1249.2" y="2062.7" font-size="35" text-anchor="middle" stroke="#000" stroke-width="0.55" >+</text>
<text x="1249.2" y="2134.6" font-size="35" text-anchor="middle" stroke="#000" stroke-width="0.55" >-</text>
<text x="1339.6" y="1992.8" font-size="35" text-anchor="middle" stroke="#000" stroke-width="0.55" letter-spacing="1.6">+/+</text>
<text x="1338.8" y="2062.7" font-size="35" text-anchor="middle" stroke="#000" stroke-width="0.55" >+</text>
<text x="1338.8" y="2134.6" font-size="35" text-anchor="middle" stroke="#000" stroke-width="0.55" >+</text>
<text x="1429.6" y="1992.8" font-size="35" text-anchor="middle" stroke="#000" stroke-width="0.55" letter-spacing="2.4">-/-</text>
<text x="1428.4" y="2062.7" font-size="35" text-anchor="middle" stroke="#000" stroke-width="0.55" >+</text>
<text x="1428.4" y="2134.6" font-size="35" text-anchor="middle" stroke="#000" stroke-width="0.55" >-</text>
<text x="1519.2" y="1992.8" font-size="35" text-anchor="middle" stroke="#000" stroke-width="0.55" letter-spacing="2.4">-/-</text>
<text x="1518" y="2062.7" font-size="35" text-anchor="middle" stroke="#000" stroke-width="0.55" >+</text>
<text x="1518" y="2134.6" font-size="35" text-anchor="middle" stroke="#000" stroke-width="0.55" >+</text>
<text x="1608.4" y="1992.8" font-size="35" text-anchor="middle" stroke="#000" stroke-width="0.55" letter-spacing="1.6">+/+</text>
<text x="1607.6" y="2063.5" font-size="35" text-anchor="middle" stroke="#000" stroke-width="0.55" >-</text>
<text x="1607.6" y="2134.6" font-size="35" text-anchor="middle" stroke="#000" stroke-width="0.55" >-</text>
<text x="1698" y="1992.8" font-size="35" text-anchor="middle" stroke="#000" stroke-width="0.55" letter-spacing="1.6">+/+</text>
<text x="1697.2" y="2063.5" font-size="35" text-anchor="middle" stroke="#000" stroke-width="0.55" >-</text>
<text x="1697.2" y="2134.6" font-size="35" text-anchor="middle" stroke="#000" stroke-width="0.55" >+</text>
<text x="1788" y="1992.8" font-size="35" text-anchor="middle" stroke="#000" stroke-width="0.55" letter-spacing="2.4">-/-</text>
<text x="1786.8" y="2063.5" font-size="35" text-anchor="middle" stroke="#000" stroke-width="0.55" >-</text>
<text x="1786.8" y="2134.6" font-size="35" text-anchor="middle" stroke="#000" stroke-width="0.55" >-</text>
<text x="1877.6" y="1992.8" font-size="35" text-anchor="middle" stroke="#000" stroke-width="0.55" letter-spacing="2.4">-/-</text>
<text x="1876.4" y="2063.5" font-size="35" text-anchor="middle" stroke="#000" stroke-width="0.55" >-</text>
<text x="1876.4" y="2134.6" font-size="35" text-anchor="middle" stroke="#000" stroke-width="0.55" >+</text>
</g>
<line x1="178.3" y1="2158.3" x2="183.6" y2="2158.3" stroke="#d6d6d6" stroke-width="1" stroke-linecap="butt" />
<line x1="201.3" y1="2158.3" x2="206.6" y2="2158.3" stroke="#d6d6d6" stroke-width="1" stroke-linecap="butt" />
<line x1="268.2" y1="2158.3" x2="273.5" y2="2158.3" stroke="#d6d6d6" stroke-width="1" stroke-linecap="butt" />
<line x1="291.3" y1="2158.3" x2="296.6" y2="2158.3" stroke="#d6d6d6" stroke-width="1" stroke-linecap="butt" />
<line x1="312.3" y1="2158.3" x2="317.8" y2="2158.3" stroke="#d6d6d6" stroke-width="1" stroke-linecap="butt" />
<line x1="334" y1="2158.3" x2="339.5" y2="2158.3" stroke="#d6d6d6" stroke-width="1" stroke-linecap="butt" />
<line x1="491.8" y1="2158.3" x2="497.1" y2="2158.3" stroke="#d6d6d6" stroke-width="1" stroke-linecap="butt" />
<line x1="513.2" y1="2158.3" x2="518.7" y2="2158.3" stroke="#d6d6d6" stroke-width="1" stroke-linecap="butt" />
<line x1="537" y1="2158.3" x2="542.6" y2="2158.3" stroke="#d6d6d6" stroke-width="1" stroke-linecap="butt" />
<line x1="560.3" y1="2158.3" x2="565.4" y2="2158.3" stroke="#d6d6d6" stroke-width="1" stroke-linecap="butt" />
<line x1="627.4" y1="2158.3" x2="632.7" y2="2158.3" stroke="#d6d6d6" stroke-width="1" stroke-linecap="butt" />
<line x1="650.2" y1="2158.3" x2="655" y2="2158.3" stroke="#d6d6d6" stroke-width="1" stroke-linecap="butt" />
<line x1="671.6" y1="2158.3" x2="676.9" y2="2158.3" stroke="#d6d6d6" stroke-width="1" stroke-linecap="butt" />
<line x1="693.4" y1="2158.3" x2="698.5" y2="2158.3" stroke="#d6d6d6" stroke-width="1" stroke-linecap="butt" />
<line x1="717.3" y1="2158.3" x2="744.6" y2="2158.3" stroke="#d6d6d6" stroke-width="1" stroke-linecap="butt" />
<line x1="807.1" y1="2158.3" x2="834" y2="2158.3" stroke="#d6d6d6" stroke-width="1" stroke-linecap="butt" />
<line x1="850.8" y1="2158.3" x2="856.1" y2="2158.3" stroke="#d6d6d6" stroke-width="1" stroke-linecap="butt" />
<line x1="872.2" y1="2158.3" x2="877.7" y2="2158.3" stroke="#d6d6d6" stroke-width="1" stroke-linecap="butt" />
<line x1="1832.5" y1="1968.6" x2="1832.5" y2="1972.9" stroke="#d6d6d6" stroke-width="1" stroke-linecap="butt" />
<line x1="1832.5" y1="1997.9" x2="1832.5" y2="2014.1" stroke="#d6d6d6" stroke-width="1" stroke-linecap="butt" />
<line x1="1832.5" y1="2018.1" x2="1832.5" y2="2024" stroke="#d6d6d6" stroke-width="1" stroke-linecap="butt" />
<line x1="1832.5" y1="2038.6" x2="1832.5" y2="2044.8" stroke="#d6d6d6" stroke-width="1" stroke-linecap="butt" />
<line x1="1832.5" y1="2049.8" x2="1832.5" y2="2070" stroke="#d6d6d6" stroke-width="1" stroke-linecap="butt" />
<text transform="translate(0.7 59.96) scale(0.91 1)" font-size="87.2" stroke="#000" stroke-width="1" vector-effect="non-scaling-stroke" stroke-linejoin="miter">A</text>
<text transform="translate(1.84 622.3) scale(0.93 1)" font-size="87.2" stroke="#000" stroke-width="1" vector-effect="non-scaling-stroke" stroke-linejoin="miter">B</text>
<text transform="translate(0.83 1340.53) scale(0.98 1)" font-size="87.2" stroke="#000" stroke-width="1" vector-effect="non-scaling-stroke" stroke-linejoin="miter">C</text>
<text transform="translate(995.58 63.1) scale(0.96 1)" font-size="87.2" stroke="#000" stroke-width="1" vector-effect="non-scaling-stroke" stroke-linejoin="miter">D</text>
<text transform="translate(1008.11 622.2) scale(0.8 1)" font-size="87.2" stroke="#000" stroke-width="1" vector-effect="non-scaling-stroke" stroke-linejoin="miter">E</text>
<text transform="translate(1007.66 1340.4) scale(0.87 1)" font-size="87.2" stroke="#000" stroke-width="1" vector-effect="non-scaling-stroke" stroke-linejoin="miter">F</text>
</svg></body></html>
